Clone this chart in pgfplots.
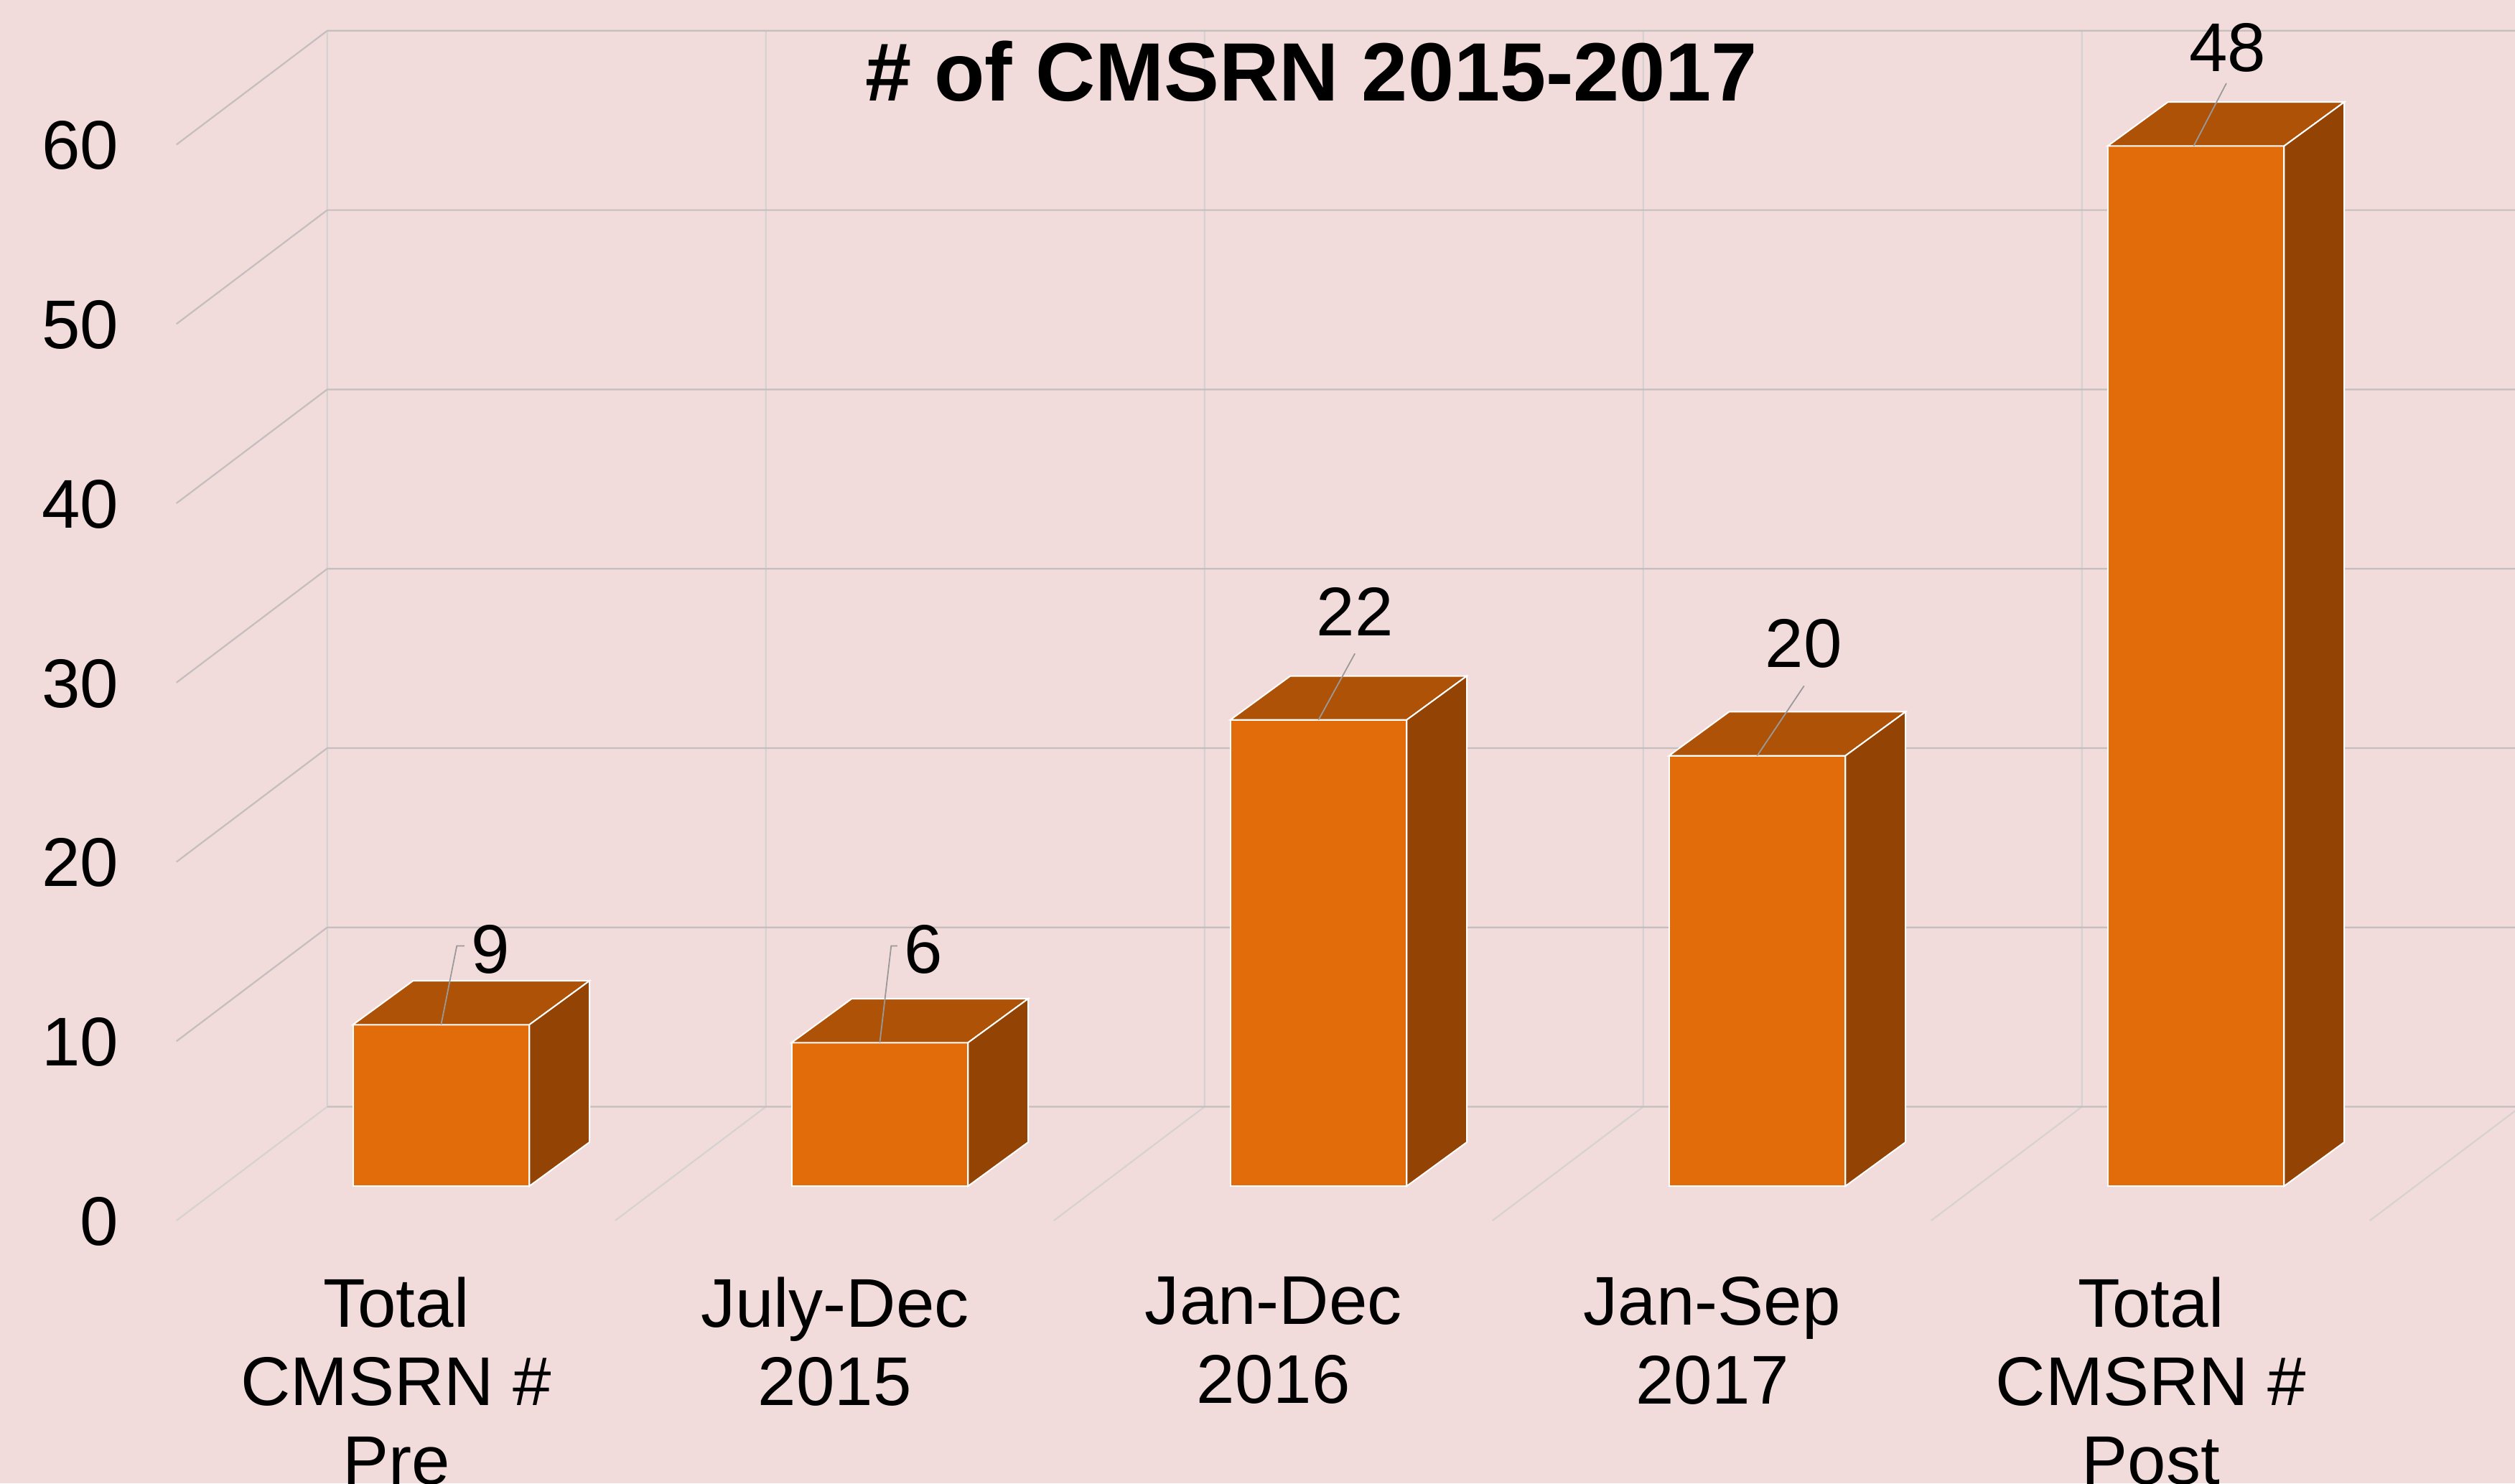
\documentclass[border=0pt]{standalone}
\usepackage{pgfplots}
\pgfplotsset{compat=1.18}
\usepackage{fontspec}
\setmainfont{Liberation Sans}
\definecolor{bgc}{HTML}{F2DCDB}
\definecolor{frontc}{HTML}{E36C0A}
\definecolor{topc}{HTML}{AE5208}
\definecolor{sidec}{HTML}{934405}
\definecolor{gridh}{HTML}{C4BEBE}
\definecolor{gridv}{HTML}{D6D2D1}
\pgfplotsset{base/.style={scale only axis,width=784pt,height=462.5pt,at={(0pt,0pt)},anchor=south west,unbounded coords=jump}}
\begin{document}
\begin{tikzpicture}
\path[use as bounding box] (0pt,0pt) rectangle (784pt,462.5pt);
\clip (0pt,0pt) rectangle (784pt,462.5pt);
\fill[bgc] (0pt,0pt) rectangle (784pt,462.5pt);
% walls and ticks: y = value on the front edge of the floor
\begin{axis}[base,xmin=-0.9031,xmax=4.83,ymin=-14.669,ymax=68.068,
  axis line style={draw=none},tick style={draw=none},
  xtick={0,1,2,3,4},
  xticklabels={Total\\CMSRN \#\\Pre,July-Dec\\2015,Jan-Dec\\2016,Jan-Sep\\2017,Total\\CMSRN \#\\Post},
  xticklabel style={anchor=north,align=center,font=\fontsize{21.5}{24.6}\selectfont,yshift=68pt},
  ytick={0,10,...,60},
  yticklabel style={anchor=east,font=\fontsize{21.5}{24}\selectfont,xshift=40.5pt,yshift=-0.3pt},
  /pgf/number format/assume math mode=true]
\addplot[gridv,line width=0.5pt] coordinates {
(-0.1572,6.35) (-0.1572,66.35) (nan,nan)
(0.8428,6.35) (0.8428,66.35) (nan,nan)
(1.8428,6.35) (1.8428,66.35) (nan,nan)
(2.8428,6.35) (2.8428,66.35) (nan,nan)
(3.8428,6.35) (3.8428,66.35) (nan,nan)
(-0.5009,0) (-0.1572,6.35) (nan,nan)
(0.4991,0) (0.8428,6.35) (nan,nan)
(1.4991,0) (1.8428,6.35) (nan,nan)
(2.4991,0) (2.8428,6.35) (nan,nan)
(3.4991,0) (3.8428,6.35) (nan,nan)
(4.4991,0) (4.8428,6.35)
};
\addplot[gridh,line width=0.5pt] coordinates {
(-0.1572,6.35) (4.9,6.35) (nan,nan)
(-0.1572,16.35) (4.9,16.35) (nan,nan)
(-0.1572,26.35) (4.9,26.35) (nan,nan)
(-0.1572,36.35) (4.9,36.35) (nan,nan)
(-0.1572,46.35) (4.9,46.35) (nan,nan)
(-0.1572,56.35) (4.9,56.35) (nan,nan)
(-0.1572,66.35) (4.9,66.35) (nan,nan)
(-0.5009,10) (-0.1572,16.35) (nan,nan)
(-0.5009,20) (-0.1572,26.35) (nan,nan)
(-0.5009,30) (-0.1572,36.35) (nan,nan)
(-0.5009,40) (-0.1572,46.35) (nan,nan)
(-0.5009,50) (-0.1572,56.35) (nan,nan)
(-0.5009,60) (-0.1572,66.35)
};
\end{axis}
% bars: y = value in the plane of the bars
\begin{axis}[base,xmin=-1.00548,xmax=4.7276,ymin=-16.59,ymax=66.146,
  hide axis,clip=false]
\addplot[ybar,bar width=55pt,fill=frontc,draw=white,line width=0.45pt] coordinates {(0,9) (1,8) (2,26) (3,24) (4,58)};
\addplot[fill=topc,draw=white,line width=0.45pt] coordinates {(-0.2011,9) (0.2011,9) (0.3382,11.45) (-0.0640,11.45)} -- cycle;
\addplot[fill=sidec,draw=white,line width=0.45pt] coordinates {(0.2011,0) (0.2011,9) (0.3382,11.45) (0.3382,2.45)} -- cycle;
\addplot[fill=topc,draw=white,line width=0.45pt] coordinates {(0.7989,8) (1.2011,8) (1.3382,10.45) (0.9360,10.45)} -- cycle;
\addplot[fill=sidec,draw=white,line width=0.45pt] coordinates {(1.2011,0) (1.2011,8) (1.3382,10.45) (1.3382,2.45)} -- cycle;
\addplot[fill=topc,draw=white,line width=0.45pt] coordinates {(1.7989,26) (2.2011,26) (2.3382,28.45) (1.9360,28.45)} -- cycle;
\addplot[fill=sidec,draw=white,line width=0.45pt] coordinates {(2.2011,0) (2.2011,26) (2.3382,28.45) (2.3382,2.45)} -- cycle;
\addplot[fill=topc,draw=white,line width=0.45pt] coordinates {(2.7989,24) (3.2011,24) (3.3382,26.45) (2.9360,26.45)} -- cycle;
\addplot[fill=sidec,draw=white,line width=0.45pt] coordinates {(3.2011,0) (3.2011,24) (3.3382,26.45) (3.3382,2.45)} -- cycle;
\addplot[fill=topc,draw=white,line width=0.45pt] coordinates {(3.7989,58) (4.2011,58) (4.3382,60.45) (3.9360,60.45)} -- cycle;
\addplot[fill=sidec,draw=white,line width=0.45pt] coordinates {(4.2011,0) (4.2011,58) (4.3382,60.45) (4.3382,2.45)} -- cycle;
% leader lines
\addplot[gray!80,line width=0.4pt] coordinates {
(0,9) (0.0358,13.4) (0.053,13.4) (nan,nan)
(1,8) (1.026,13.4) (1.04,13.4) (nan,nan)
(2,26) (2.083,29.7) (nan,nan)
(3,24) (3.107,27.9) (nan,nan)
(3.995,58) (4.0695,61.5)
};
% data labels
\addplot[only marks,mark=none,nodes near coords,point meta=explicit symbolic,
  nodes near coords style={anchor=center,font=\fontsize{21.5}{24}\selectfont,text=black,inner sep=0pt}]
  table[meta=l,row sep=\\] {x y l\\ 0.113 13.2 9\\ 1.10 13.2 6\\ 2.083 32.05 22\\ 3.106 30.25 20\\ 4.072 63.5 48\\};
\node[font=\bfseries\fontsize{25.8}{30}\selectfont,text=black] at (rel axis cs:0.5215,0.952) {\# of CMSRN 2015-2017};
\end{axis}
\end{tikzpicture}
\end{document}
